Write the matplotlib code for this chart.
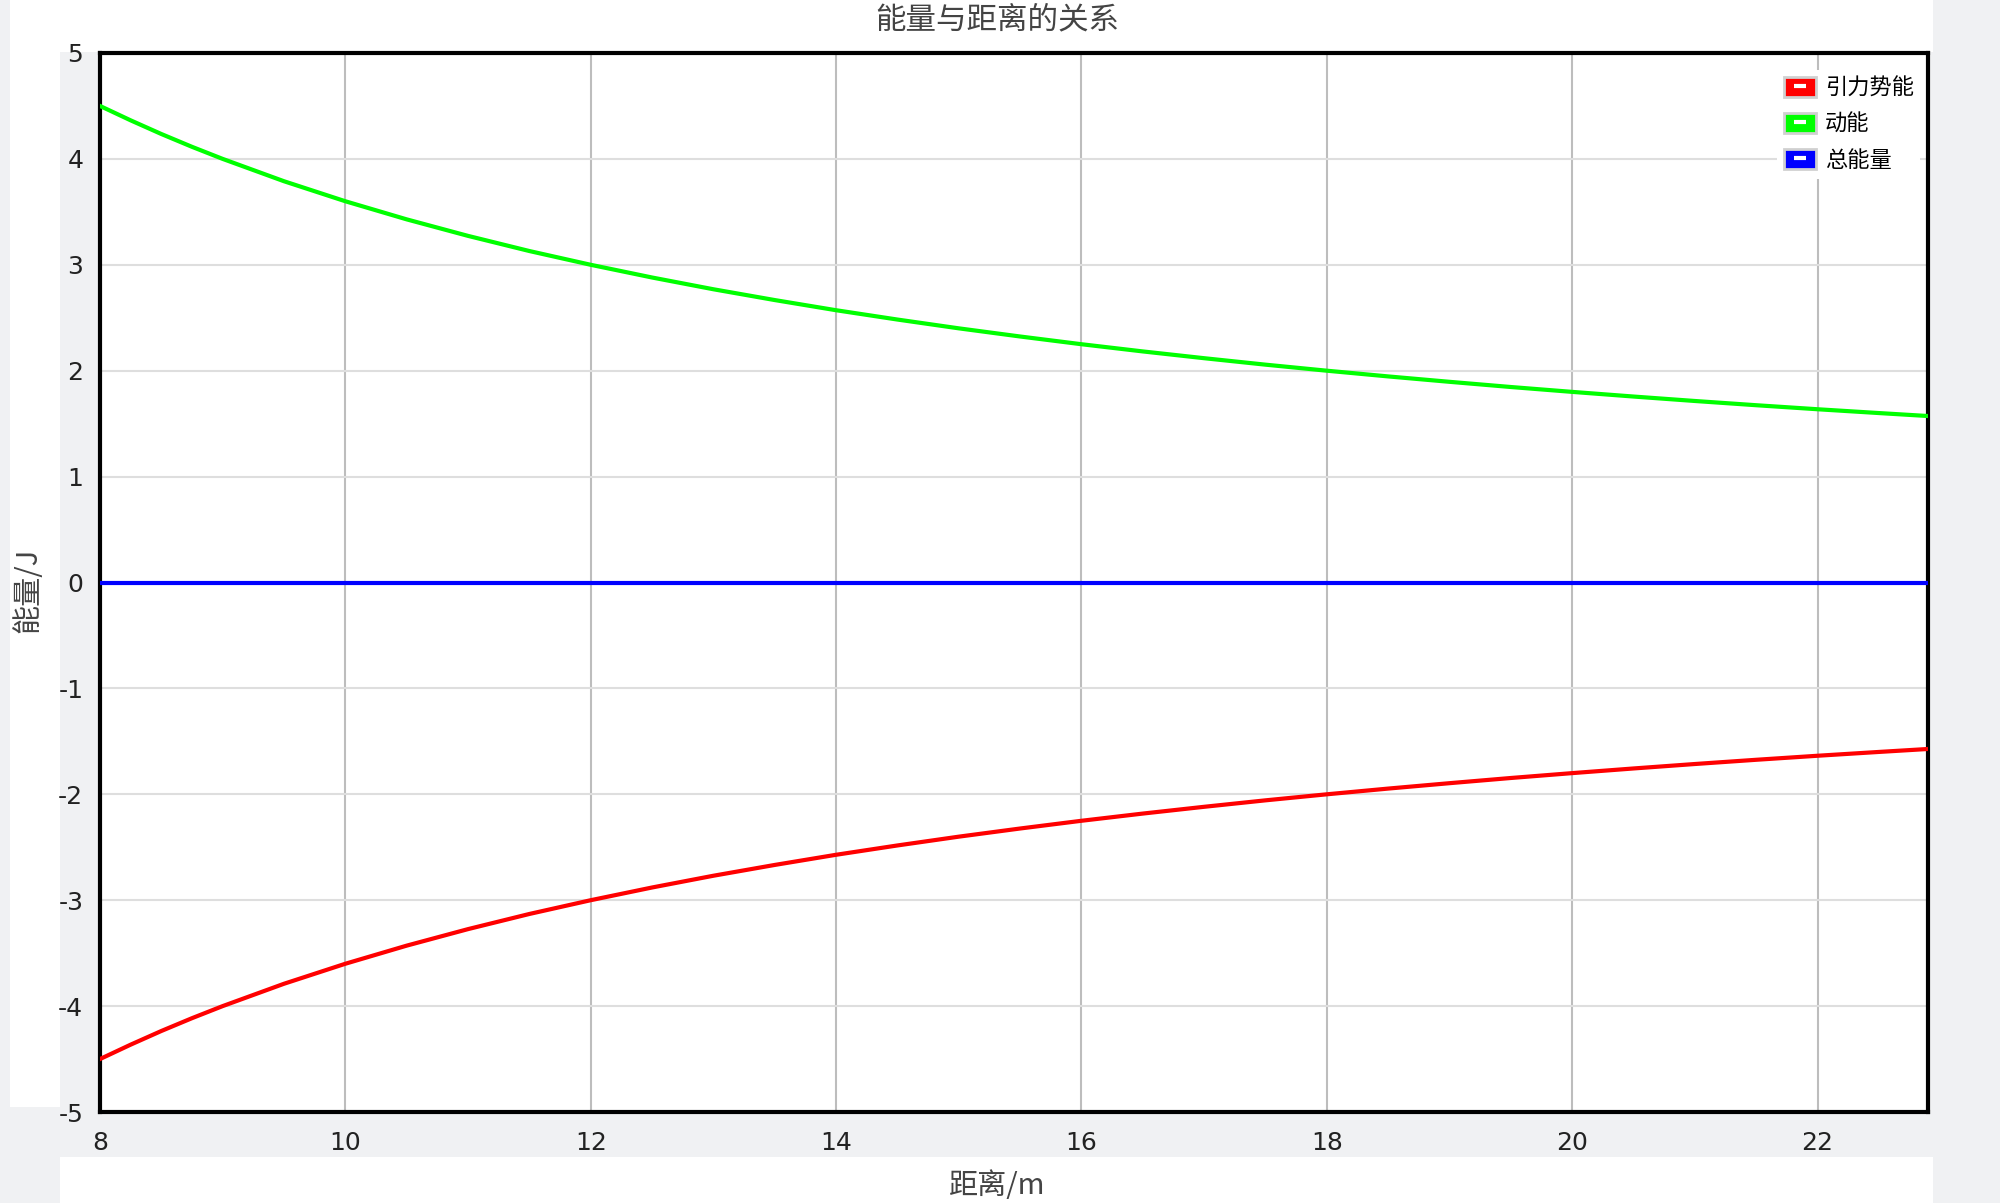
import matplotlib
matplotlib.use('Agg')
import matplotlib.pyplot as plt
from matplotlib.patches import Rectangle, Patch
from matplotlib.lines import Line2D
from matplotlib.legend_handler import HandlerTuple

plt.rcParams['font.family'] = ['Noto Sans CJK SC', 'DejaVu Sans']
plt.rcParams['axes.unicode_minus'] = False

# distance (m) and energies (J)
r = [8, 8.25, 8.5, 8.75, 9, 9.5, 10, 10.5, 11, 11.5, 12, 12.5, 13, 13.5, 14,
     14.5, 15, 15.5, 16, 16.5, 17, 17.5, 18, 18.5, 19, 19.5, 20, 20.5, 21, 21.5,
     22, 22.5, 23]
kinetic = [4.5, 4.364, 4.235, 4.114, 4.0, 3.789, 3.6, 3.429, 3.273, 3.130, 3.0,
           2.88, 2.769, 2.667, 2.571, 2.483, 2.4, 2.323, 2.25, 2.182, 2.118,
           2.057, 2.0, 1.946, 1.895, 1.846, 1.8, 1.756, 1.714, 1.674, 1.636,
           1.6, 1.565]
potential = [-4.5, -4.364, -4.235, -4.114, -4.0, -3.789, -3.6, -3.429, -3.273,
             -3.130, -3.0, -2.88, -2.769, -2.667, -2.571, -2.483, -2.4, -2.323,
             -2.25, -2.182, -2.118, -2.057, -2.0, -1.946, -1.895, -1.846, -1.8,
             -1.756, -1.714, -1.674, -1.636, -1.6, -1.565]
total = [0.0] * len(r)

labels = ['引力势能', '动能', '总能量']
colors = ['#ff0000', '#00ff00', '#0000ff']
x_ticks = [8, 10, 12, 14, 16, 18, 20, 22]
y_ticks = [-5, -4, -3, -2, -1, 0, 1, 2, 3, 4, 5]

W, H = 2000, 1203
fig = plt.figure(figsize=(W / 100, H / 100), dpi=100, facecolor='#f0f1f3')


def white_box(x0, y0, x1, y1):
    # pixel box, origin at top left
    fig.patches.append(Rectangle((x0 / W, 1 - y1 / H), (x1 - x0) / W, (y1 - y0) / H,
                                 transform=fig.transFigure, facecolor='white',
                                 edgecolor='none', zorder=-10))


white_box(10, 0, 60, 1107)
white_box(60, 0, 1933, 52)
white_box(60, 1157, 1933, 1203)

ax = fig.add_axes([100 / W, 1 - 1112 / H, 1828 / W, 1059 / H])
ax.set_facecolor('white')

for y, c in zip([potential, kinetic, total], colors):
    ax.plot(r, y, color=c, lw=3, zorder=3)

ax.set_xlim(8, 22.9)
ax.set_ylim(-5, 5)
ax.set_xticks(x_ticks)
ax.set_yticks(y_ticks)
ax.tick_params(length=0, labelsize=18, labelcolor='#222222')
ax.tick_params(axis='x', pad=14)
ax.tick_params(axis='y', pad=12)
for t in ax.get_xticklabels() + ax.get_yticklabels():
    t.set_family('DejaVu Sans')

ax.grid(axis='x', color='#bdbdbd', lw=1.5, zorder=0)
ax.grid(axis='y', color='#dedede', lw=1.5, zorder=0)
ax.set_axisbelow(True)

for s in ax.spines.values():
    s.set_linewidth(3)
    s.set_color('black')

fig.text(997 / W, 1 - 20 / H, '能量与距离的关系', ha='center', va='center',
         fontsize=22, color='#444444')
fig.text(997 / W, 1 - 1186 / H, '距离/m', ha='center', va='center',
         fontsize=21, color='#444444')
fig.text(28 / W, 1 - 590 / H, '能量/J', ha='center', va='center',
         rotation=90, fontsize=21, color='#444444')

handles = []
for c in colors:
    box = Patch(facecolor=c, edgecolor='#d0d0d0', lw=2)
    dash = Line2D([], [], color='white', marker='_', linestyle='None',
                  markersize=9, markeredgewidth=3)
    handles.append((box, dash))

leg = ax.legend(handles, labels, loc='upper right', bbox_to_anchor=(1.005, 1.0),
                fontsize=16,
                handler_map={tuple: HandlerTuple(ndivide=1)},
                handlelength=1.45, handleheight=1.0, handletextpad=0.4,
                labelspacing=0.6, borderaxespad=0.75, borderpad=0.3,
                frameon=True, fancybox=False, framealpha=1)
leg.get_frame().set_edgecolor('none')
leg.get_frame().set_facecolor('white')

fig.savefig('out.png', dpi=100, facecolor=fig.get_facecolor())
